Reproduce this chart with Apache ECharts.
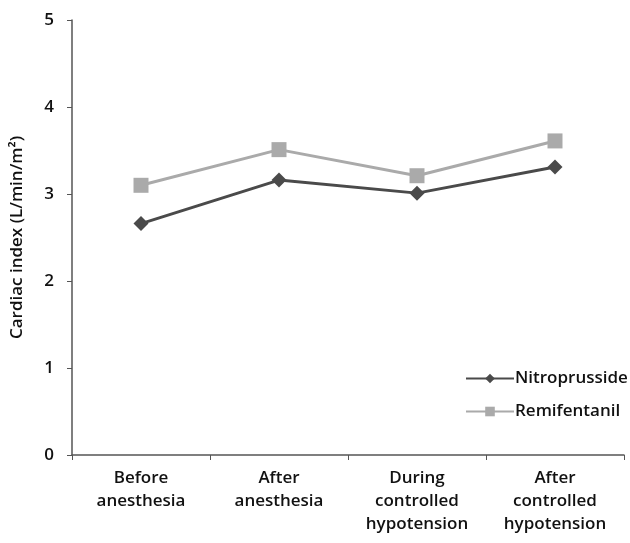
<!DOCTYPE html>
<html>
<head>
<meta charset="utf-8">
<script src="https://cdn.jsdelivr.net/npm/echarts@6/dist/echarts.min.js"></script>
<style>
  html, body { margin: 0; padding: 0; background: #fff; }
  #chart { width: 630px; height: 543px; }
</style>
</head>
<body>
<div id="chart"></div>
<script>
const categories = [
  'Before\nanesthesia',
  'After\nanesthesia',
  'During\ncontrolled\nhypotension',
  'After\ncontrolled\nhypotension'
];
const nitroprusside = [2.66, 3.16, 3.01, 3.31];
const remifentanil = [3.10, 3.51, 3.21, 3.61];
const yTicks = [0, 1, 2, 3, 4, 5];

const font = '"Open Sans", "Liberation Sans", sans-serif';
const textStyle = { fontFamily: font, fontSize: 17, fontWeight: 600, color: '#111' };
const chart = echarts.init(document.getElementById('chart'), null, { renderer: 'canvas' });

chart.setOption({
  backgroundColor: '#ffffff',
  animation: false,
  grid: { left: 72, right: 6, top: 20, bottom: 88 },
  legend: {
    orient: 'vertical',
    left: 460,
    top: 365,
    itemWidth: 48,
    itemHeight: 12,
    itemGap: 16,
    textStyle: Object.assign({}, textStyle, { padding: [0, 0, 0, -4] }),
    data: ['Nitroprusside', 'Remifentanil']
  },
  xAxis: {
    type: 'category',
    data: categories,
    boundaryGap: true,
    axisLine: { lineStyle: { color: '#555', width: 1.5 } },
    axisTick: { show: true, length: 5, lineStyle: { color: '#555' } },
    axisLabel: Object.assign({}, textStyle, { lineHeight: 23, margin: 12, interval: 0 })
  },
  yAxis: {
    type: 'value',
    min: yTicks[0],
    max: yTicks[yTicks.length - 1],
    interval: 1,
    name: 'Cardiac index (L/min/m²)',
    nameLocation: 'middle',
    nameGap: 46,
    nameTextStyle: textStyle,
    axisLine: { show: true, lineStyle: { color: '#555', width: 1.5 } },
    axisTick: { show: true, length: 5, lineStyle: { color: '#555' } },
    axisLabel: Object.assign({}, textStyle, { margin: 18 }),
    splitLine: { show: false }
  },
  series: [
    {
      name: 'Nitroprusside',
      type: 'line',
      data: nitroprusside,
      symbol: 'diamond',
      symbolSize: 15,
      lineStyle: { color: '#4a4a4a', width: 3 },
      itemStyle: { color: '#4a4a4a' }
    },
    {
      name: 'Remifentanil',
      type: 'line',
      data: remifentanil,
      symbol: 'rect',
      symbolSize: 15,
      lineStyle: { color: '#aaaaaa', width: 3 },
      itemStyle: { color: '#aaaaaa' }
    }
  ]
});
</script>
</body>
</html>
